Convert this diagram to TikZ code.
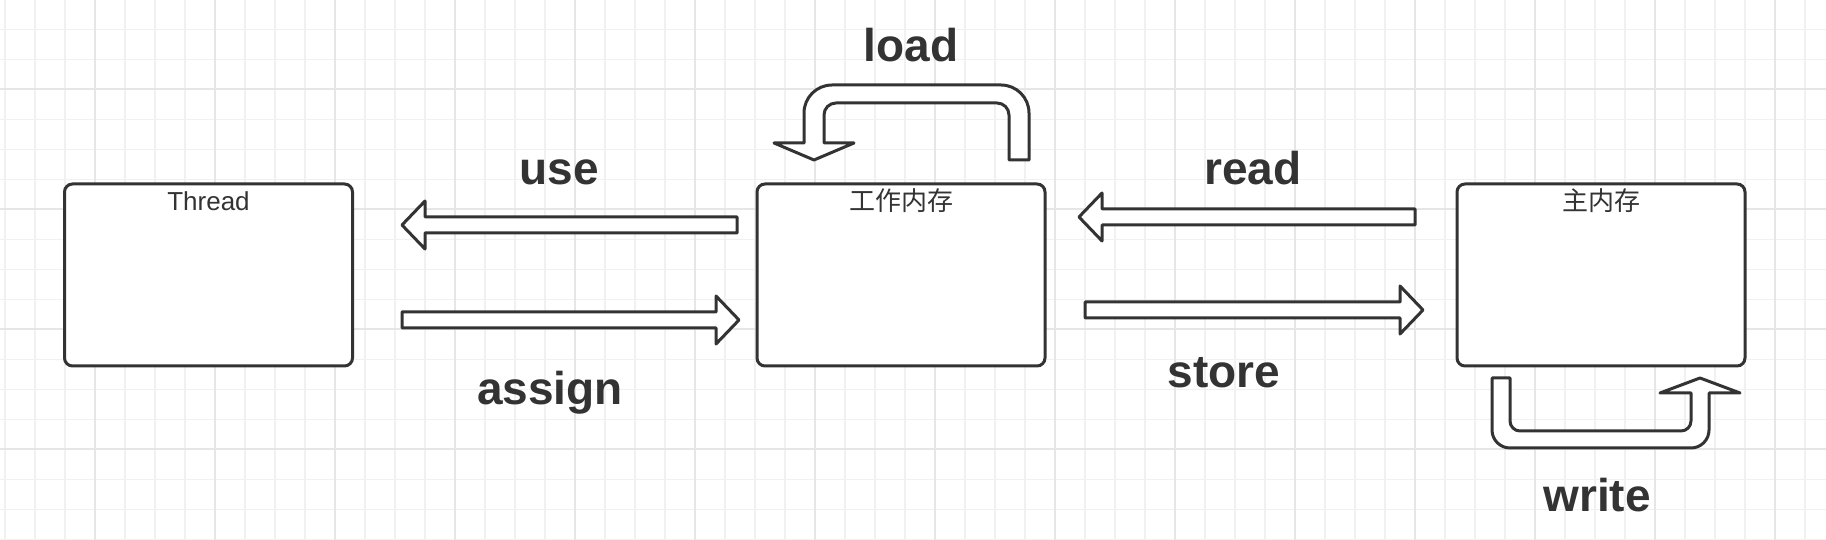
\documentclass[tikz,border=0pt]{standalone}
\usepackage{fontspec}
\setmainfont{Liberation Sans}
\newfontfamily\cjk{Noto Sans CJK SC}
\usetikzlibrary{calc}

\definecolor{ink}{HTML}{333333}
\definecolor{gridminor}{HTML}{F1F1F1}
\definecolor{gridmajor}{HTML}{E6E6E6}

\tikzset{
  membox/.style={draw=ink,line width=1.5pt,fill=white,rounded corners=4pt,
    minimum width=144pt,minimum height=91pt,inner sep=0pt},
  boxtitle/.style={text=ink,font=\fontsize{13}{13}\selectfont,anchor=base,inner sep=0pt},
  blockarrow/.style={draw=ink,line width=1.5pt,fill=white,line join=round},
  oplabel/.style={text=ink,font=\fontsize{23}{23}\selectfont\bfseries,anchor=base,inner sep=0pt},
  gridthin/.style={draw=gridminor,line width=0.6pt},
  gridthick/.style={draw=gridmajor,line width=0.8pt}
}

% straight block arrow from #1 to #2 (horizontal only)
\newcommand{\harrow}[2]{%
  \draw[blockarrow] let \p1=(#1), \p2=(#2), \p3=($(#2)!11.5pt!(#1)$) in
    (\x1,\y1+4pt) -- (\x3,\y1+4pt) -- (\x3,\y1+12pt) -- (\x2,\y1)
    -- (\x3,\y1-12pt) -- (\x3,\y1-4pt) -- (\x1,\y1-4pt) -- cycle;}

\begin{document}
\begin{tikzpicture}[x=0.5pt,y=0.5pt]
  \useasboundingbox (0,0) rectangle (1826,540);
  \fill[white] (0,0) rectangle (1826,540);
  % grid
  \foreach \gx in {5,35,...,1805} \draw[gridthin] (\gx,0) -- (\gx,540);
  \foreach \gy in {0.5,30.5,...,510.5} \draw[gridthin] (0,\gy) -- (1826,\gy);
  \foreach \gx in {95,215,...,1775} \draw[gridthick] (\gx,0) -- (\gx,540);
  \foreach \gy in {91,211,...,451} \draw[gridthick] (0,\gy) -- (1826,\gy);

  % boxes
  \node[membox] (thread) at (208.5,265) {};
  \node[membox] (work) at (901,265) {};
  \node[membox] (main) at (1601,265) {};
  \node[boxtitle] (thread-title) at ($(thread.north)+(0,-28)$) {Thread};
  \node[boxtitle] (work-title) at ($(work.north)+(0,-28)$) {\cjk 工作内存};
  \node[boxtitle] (main-title) at ($(main.north)+(0,-28)$) {\cjk 主内存};

  % straight arrows
  \coordinate (use-s) at (737,315);
  \coordinate (use-e) at (402,315);
  \coordinate (assign-s) at (402,220);
  \coordinate (assign-e) at (739,220);
  \coordinate (read-s) at (1415,323);
  \coordinate (read-e) at (1079,323);
  \coordinate (store-s) at (1085,230);
  \coordinate (store-e) at (1423,230);
  \harrow{use-s}{use-e}
  \harrow{assign-s}{assign-e}
  \harrow{read-s}{read-e}
  \harrow{store-s}{store-e}

  % load (loops back into the work box)
  \draw[blockarrow] (1009,380) -- (1009,425) arc (0:90:12) -- (836,437)
    arc (90:180:12) -- (824,397) -- (854,397) -- (814,380) -- (774,397)
    -- (804,397) -- (804,427) arc (180:90:28) -- (1001,455) arc (90:0:28)
    -- (1029,380) -- cycle;
  % write (loops under the main box)
  \draw[blockarrow] (1492,162) -- (1510,162) -- (1510,119) arc (180:270:10)
    -- (1681,109) arc (270:360:10) -- (1691,147) -- (1660,147) -- (1700,162)
    -- (1740,147) -- (1709,147) -- (1709,110) arc (0:-90:18) -- (1510,92)
    arc (270:180:18) -- cycle;

  % labels
  \node[oplabel] (use-l) at (559,355) {use};
  \node[oplabel] (assign-l) at (550,135) {assign};
  \node[oplabel] (read-l) at (1253,355) {read};
  \node[oplabel] (store-l) at (1224,152) {store};
  \node[oplabel] (load-l) at (911,478) {load};
  \node[oplabel] (write-l) at (1597,28) {write};
\end{tikzpicture}
\end{document}
